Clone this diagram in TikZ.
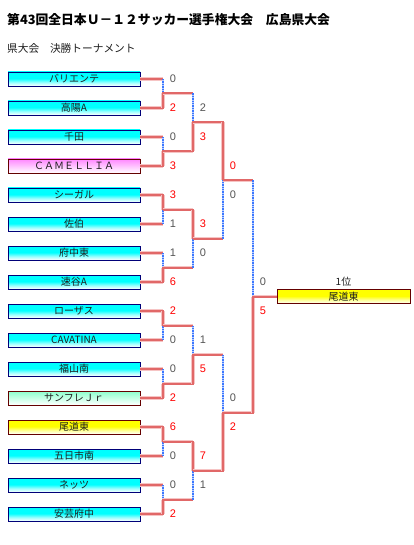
\documentclass[tikz,border=0pt]{standalone}
\usepackage{fontspec}
\newfontfamily\jp{Noto Sans CJK JP}
\newfontfamily\lat{Liberation Sans}
\definecolor{winred}{RGB}{225,104,104}
\definecolor{halo}{RGB}{246,196,196}
\definecolor{losblue}{RGB}{60,120,255}
\definecolor{losblue2}{RGB}{185,205,255}
\definecolor{navyb}{RGB}{0,0,120}
\definecolor{darkr}{RGB}{100,0,0}
\definecolor{pinkc}{RGB}{255,135,255}
\definecolor{greenc}{RGB}{140,255,205}
\definecolor{scoregrey}{RGB}{85,85,85}
\definecolor{txt}{RGB}{30,30,30}
\pgfdeclareverticalshading{cyansh}{100bp}{color(0bp)=(white); color(25bp)=(white); color(38bp)=(cyan!40!white); color(52bp)=(cyan); color(100bp)=(cyan)}
\pgfdeclareverticalshading{yellowsh}{100bp}{color(0bp)=(white); color(25bp)=(white); color(38bp)=(yellow!40!white); color(52bp)=(yellow); color(100bp)=(yellow)}
\pgfdeclareverticalshading{pinksh}{100bp}{color(0bp)=(white); color(25bp)=(white); color(75bp)=(pinkc); color(100bp)=(pinkc)}
\pgfdeclareverticalshading{greensh}{100bp}{color(0bp)=(white); color(25bp)=(white); color(75bp)=(greenc); color(100bp)=(greenc)}
\tikzset{
  team/.style={draw=navyb, line width=0.8pt, minimum width=132pt, minimum height=14pt,
    inner sep=0pt, text=txt, font=\jp\fontsize{10}{10}\selectfont, shade, shading=cyansh},
  pinkteam/.style={team, draw=darkr, shading=pinksh},
  greenteam/.style={team, draw=darkr, shading=greensh},
  yellowteam/.style={team, draw=darkr, shading=yellowsh},
  win/.style={draw=winred, line width=2pt, preaction={draw=halo, line width=3.4pt}},
  vw/.style={win, line cap=rect},
  vl/.style={draw=losblue, line width=1.6pt, dash pattern=on 1.4pt off 1pt,
    preaction={draw=losblue2, line width=1.6pt, solid}},
  sw/.style={text=red, font=\lat\fontsize{11}{11}\selectfont, inner sep=0pt},
  sl/.style={text=scoregrey, font=\lat\fontsize{11}{11}\selectfont, inner sep=0pt},
}
\newcommand\bout[7]{%
  \draw[win] (#1) -- (#1 -| #3);
  \draw[win] (#2) -- (#2 -| #3);
  \draw[v#6] (#1 -| #3) -- (#3);
  \draw[v#7] (#2 -| #3) -- (#3);
  \node[s#6] at ([shift={(10,-14.5)}]#3) {#4};
  \node[s#7] at ([shift={(10,14.5)}]#3) {#5};
}
\begin{document}
\begin{tikzpicture}[x=1pt,y=-1pt]
\useasboundingbox[fill=white] (0,0) rectangle (414,545);
\node[anchor=west, inner sep=0pt, text=black, font=\jp\bfseries\fontsize{12.8}{13}\selectfont] (title) at (7,20) {第43回全日本Ｕ－１２サッカー選手権大会　広島県大会};
\node[anchor=west, inner sep=0pt, text=txt, font=\jp\fontsize{10.7}{11}\selectfont] (sub) at (7,48) {県大会　決勝トーナメント};

\node[team] (t0) at (74,79) {バリエンテ};
\node[team] (t1) at (74,108) {高陽A};
\node[team] (t2) at (74,137) {千田};
\node[pinkteam] (t3) at (74,166) {ＣＡＭＥＬＬＩＡ};
\node[team] (t4) at (74,195) {シーガル};
\node[team] (t5) at (74,224) {佐伯};
\node[team] (t6) at (74,253) {府中東};
\node[team] (t7) at (74,282) {速谷A};
\node[team] (t8) at (74,311) {ローザス};
\node[team] (t9) at (74,340) {CAVATINA};
\node[team] (t10) at (74,369) {福山南};
\node[greenteam] (t11) at (74,398) {サンフレＪｒ};
\node[yellowteam] (t12) at (74,427) {尾道東};
\node[team] (t13) at (74,456) {五日市南};
\node[team] (t14) at (74,485) {ネッツ};
\node[team] (t15) at (74,514) {安芸府中};

\coordinate (a0) at (163,93.5);
\coordinate (a1) at (163,151.5);
\coordinate (a2) at (163,209.5);
\coordinate (a3) at (163,267.5);
\coordinate (a4) at (163,325.5);
\coordinate (a5) at (163,383.5);
\coordinate (a6) at (163,441.5);
\coordinate (a7) at (163,499.5);
\coordinate (b0) at (193,122.5);
\coordinate (b1) at (193,238.5);
\coordinate (b2) at (193,354.5);
\coordinate (b3) at (193,470.5);
\coordinate (c0) at (223,180.5);
\coordinate (c1) at (223,412.5);
\coordinate (d0) at (253,296.5);

\bout{t0}{t1}{a0}{0}{2}{l}{w}
\bout{t2}{t3}{a1}{0}{3}{l}{w}
\bout{t4}{t5}{a2}{3}{1}{w}{l}
\bout{t6}{t7}{a3}{1}{6}{l}{w}
\bout{t8}{t9}{a4}{2}{0}{w}{l}
\bout{t10}{t11}{a5}{0}{2}{l}{w}
\bout{t12}{t13}{a6}{6}{0}{w}{l}
\bout{t14}{t15}{a7}{0}{2}{l}{w}
\bout{a0}{a1}{b0}{2}{3}{l}{w}
\bout{a2}{a3}{b1}{3}{0}{w}{l}
\bout{a4}{a5}{b2}{1}{5}{l}{w}
\bout{a6}{a7}{b3}{7}{1}{w}{l}
\bout{b0}{b1}{c0}{0}{0}{w}{l}
\bout{b2}{b3}{c1}{0}{2}{l}{w}
\bout{c0}{c1}{d0}{0}{5}{l}{w}

\node[yellowteam, minimum width=133pt] (champ) at (343.5,296.5) {尾道東};
\draw[win] (d0) -- (champ);
\node[inner sep=0pt, text=txt, font=\jp\fontsize{10}{10}\selectfont] (rank) at (343.5,282) {1位};
\end{tikzpicture}
\end{document}
